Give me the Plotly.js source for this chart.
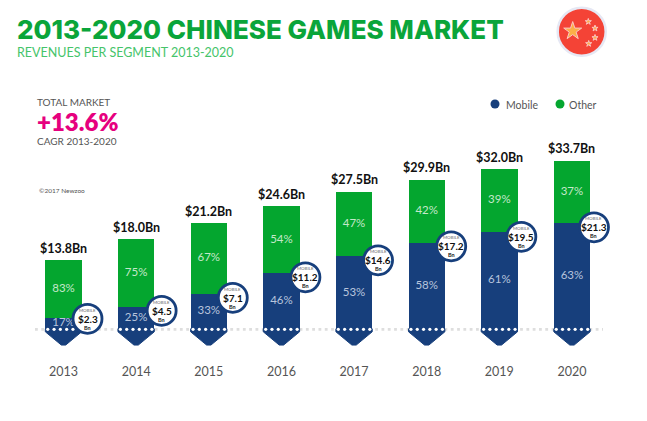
<!DOCTYPE html>
<html>
<head>
<meta charset="utf-8">
<script src="https://cdn.plot.ly/plotly-3.0.1.min.js"></script>
<style>html,body{margin:0;padding:0;background:#fff}#chart{width:647px;height:421px}</style>
</head>
<body>
<div id="chart"></div>
<script>
var years = [2013, 2014, 2015, 2016, 2017, 2018, 2019, 2020];
var totals = [13.8, 18.0, 21.2, 24.6, 27.5, 29.9, 32.0, 33.7];
var mobile = [2.3, 4.5, 7.1, 11.2, 14.6, 17.2, 19.5, 21.3];
var mobileShare = [17, 25, 33, 46, 53, 58, 61, 63];
var otherShare = [83, 75, 67, 54, 47, 42, 39, 37];

var other = totals.map(function (t, i) { return +(t - mobile[i]).toFixed(1); });

var W = 647, H = 421, AXIS_PX = 362;
var X0 = 63.5, XS = 72.64, Y0 = 329.3, YS = 5;
function xOf(px) { return 2013 + (px - X0) / XS; }
function yOf(px) { return (Y0 - px) / YS; }

var BLUE = '#173f7c', GREEN = '#04a62f';
var FONT = 'Lato, sans-serif';
var HALF = 0.25;

var calloutDx = [24, 25.5, 24, 24, 24, 24.5, 22, 22];
var calloutDy = [1, 4, 4, 4, 4, 3, 5, 4.5];
var cx = years.map(function (y, i) { return y + calloutDx[i] / XS; });
var cy = mobile.map(function (m, i) { return m - calloutDy[i] / YS; });

var arrowX = [], arrowY = [];
years.forEach(function (y) {
  arrowX.push(y - HALF, y - HALF, y - 0.03, y + 0.03, y + HALF, y + HALF, y - HALF, null);
  arrowY.push(0.1, -0.5, -3.15, -3.15, -0.5, 0.1, 0.1, null);
});

var dotX = [], dotY = [];
years.forEach(function (y) {
  [-2.5, -1.5, -0.5, 0.5, 1.5, 2.5].forEach(function (k) { dotX.push(y + k * 0.0867); dotY.push(0); });
});

var traces = [
  { type: 'bar', name: 'Mobile', x: years, y: mobile, width: 0.5, marker: { color: BLUE }, showlegend: false, hoverinfo: 'skip' },
  { type: 'bar', name: 'Other', x: years, y: other, width: 0.5, marker: { color: GREEN }, showlegend: false, hoverinfo: 'skip' },
  { type: 'scatter', mode: 'lines', x: arrowX, y: arrowY, fill: 'toself', fillcolor: BLUE, line: { color: BLUE, width: 1 }, showlegend: false, hoverinfo: 'skip' },
  { type: 'scatter', mode: 'markers', x: dotX, y: dotY, marker: { color: '#ffffff', size: 3.2 }, showlegend: false, hoverinfo: 'skip' },
  { type: 'scatter', mode: 'text', x: years, y: mobile.map(function (m) { return m / 2; }),
    text: mobileShare.map(function (v) { return v + '%'; }), textposition: 'middle center',
    textfont: { family: FONT, size: 11.5, color: '#b8c5dc' }, showlegend: false, hoverinfo: 'skip' },
  { type: 'scatter', mode: 'text', x: years, y: mobile.map(function (m, i) { return m + other[i] / 2; }),
    text: otherShare.map(function (v) { return v + '%'; }), textposition: 'middle center',
    textfont: { family: FONT, size: 11.5, color: '#c4e8ca' }, showlegend: false, hoverinfo: 'skip' },
  { type: 'scatter', mode: 'markers', x: cx, y: cy,
    marker: { color: '#ffffff', size: 29, line: { color: BLUE, width: 2.8 } }, showlegend: false, hoverinfo: 'skip' },
  { type: 'scatter', mode: 'markers', x: [xOf(495), xOf(560)], y: [yOf(104), yOf(104)],
    marker: { color: [BLUE, GREEN], size: 9 }, showlegend: false, hoverinfo: 'skip' },
  { type: 'scatter', mode: 'markers', x: [xOf(581.7)], y: [yOf(31.7)],
    marker: { color: '#f44336', size: 48, line: { color: '#e6e8f4', width: 2.5 } }, showlegend: false, hoverinfo: 'skip' },
  { type: 'scatter', mode: 'markers', x: [xOf(572.7), xOf(588.3), xOf(595), xOf(595), xOf(588.7)],
    y: [yOf(31), yOf(21.7), yOf(28.3), yOf(37.7), yOf(43.7)],
    marker: { symbol: 'star', color: '#ffdf4f', size: [13.5, 4.6, 4.6, 4.6, 4.6] }, showlegend: false, hoverinfo: 'skip' }
];

function note(text, px, py, size, color, weight, anchor) {
  return { text: text, x: xOf(px - 2), y: yOf(py), xref: 'x', yref: 'y', showarrow: false,
    xanchor: anchor || 'left', yanchor: 'middle',
    font: { family: FONT, size: size, color: color, weight: weight || 400 } };
}

var annotations = [
  note('REVENUES PER SEGMENT 2013-2020', 17, 52.5, 12.5, '#45c46a'),
  note('TOTAL MARKET', 37, 101.5, 10, '#555555'),
  note('+13.6%', 37, 121, 24, '#e6007e', 800),
  note('CAGR 2013-2020', 37, 141, 10, '#555555'),
  note('©2017 Newzoo', 39, 190.5, 6.5, '#555555'),
  note('Mobile', 506, 104.5, 10.5, '#555555'),
  note('Other', 569, 104.5, 10.5, '#555555')
];

years.forEach(function (y, i) {
  annotations.push({ text: '$' + totals[i].toFixed(1) + 'Bn', x: y, y: totals[i], xref: 'x', yref: 'y',
    yshift: 12, showarrow: false, xanchor: 'center', yanchor: 'middle',
    font: { family: FONT, size: 12.5, color: '#111111', weight: 700 } });
  annotations.push({ text: 'MOBILE', x: cx[i], y: cy[i], yshift: 8.5, showarrow: false, xanchor: 'center', yanchor: 'middle',
    font: { family: FONT, size: 4.4, color: '#666666' } });
  annotations.push({ text: '$' + mobile[i].toFixed(1), x: cx[i], y: cy[i], yshift: 0, showarrow: false, xanchor: 'center', yanchor: 'middle',
    font: { family: FONT, size: 10, color: '#111111', weight: 700 } });
  annotations.push({ text: 'Bn', x: cx[i], y: cy[i], yshift: -9, showarrow: false, xanchor: 'center', yanchor: 'middle',
    font: { family: FONT, size: 5.5, color: '#222222', weight: 700 } });
});

var layout = {
  width: W, height: H, autosize: false,
  margin: { l: 0, r: 0, t: 0, b: H - AXIS_PX, pad: 0 },
  paper_bgcolor: '#ffffff', plot_bgcolor: '#ffffff',
  barmode: 'stack',
  title: { text: '2013-2020 CHINESE GAMES MARKET', x: 17 / W, xanchor: 'left', y: 1 - 30 / H, yanchor: 'middle',
    font: { family: 'Inter, sans-serif', size: 26, color: '#0aa53a', weight: 800 } },
  xaxis: { range: [xOf(0), xOf(W)], tickmode: 'array', tickvals: years, ticktext: years.map(String),
    showgrid: false, zeroline: false, showline: false, ticks: '',
    tickfont: { family: FONT, size: 12.5, color: '#555555' } },
  yaxis: { range: [yOf(AXIS_PX), yOf(0)], visible: false, showgrid: false, zeroline: false },
  shapes: [{ type: 'line', layer: 'below', xref: 'x', yref: 'y', x0: xOf(35), x1: xOf(603), y0: 0, y1: 0,
    line: { color: '#dedede', width: 2.8, dash: '2.8px,3.5px' } }],
  showlegend: false,
  annotations: annotations
};

Plotly.newPlot('chart', traces, layout, { staticPlot: true, displayModeBar: false });
</script>
</body>
</html>
